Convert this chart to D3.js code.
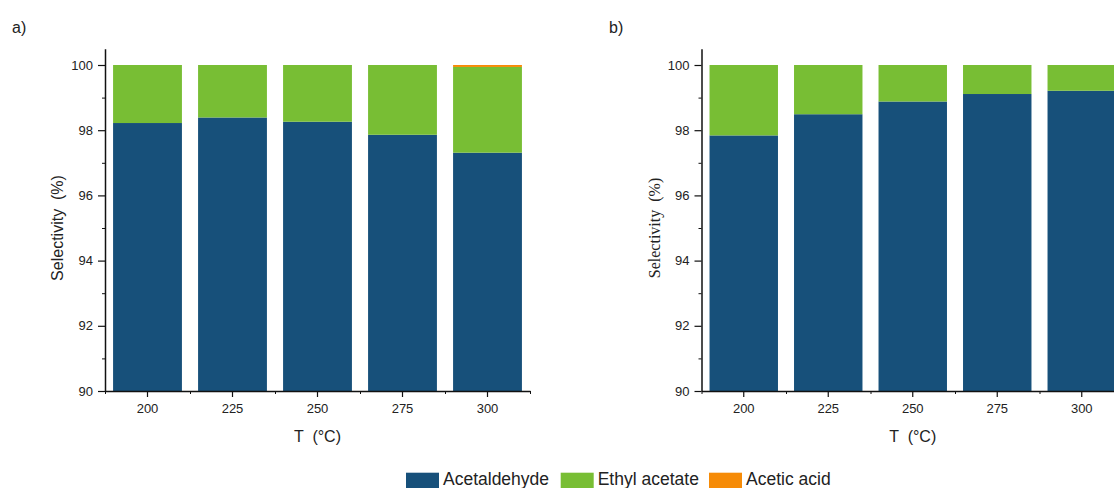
<!DOCTYPE html>
<html>
<head>
<meta charset="utf-8">
<script src="https://cdn.jsdelivr.net/npm/d3@7"></script>
<style>
  html, body { margin: 0; padding: 0; background: #fff; }
  svg { display: block; }
  .axis path, .axis line { stroke: #111; }
  .axis text { font-family: "Liberation Sans", Arial, sans-serif; font-size: 13px; fill: #222; }
</style>
</head>
<body>
<svg id="chart" width="1114" height="488"></svg>
<script>
// Reaction temperatures (°C)
const temps = ["200", "225", "250", "275", "300"];

// Product selectivity (%), catalyst a)
const acetaldehydeA = [98.22, 98.39, 98.26, 97.86, 97.31];
const ethylAcetateA = [1.78, 1.61, 1.74, 2.14, 2.63];
const aceticAcidA   = [0, 0, 0, 0, 0.06];

// Product selectivity (%), catalyst b)
const acetaldehydeB = [97.84, 98.49, 98.88, 99.11, 99.21];
const ethylAcetateB = [2.16, 1.51, 1.12, 0.89, 0.79];
const aceticAcidB   = [0, 0, 0, 0, 0];

const products = ["Acetaldehyde", "Ethyl acetate", "Acetic acid"];
const colors = ["#17507a", "#78be34", "#f68b07"];

const yMajor = [90, 92, 94, 96, 98, 100];
const yMinor = [91, 93, 95, 97, 99];

const svg = d3.select("#chart");
const color = d3.scaleOrdinal().domain(products).range(colors);

function panel(opts) {
  const rows = temps.map((t, i) => ({
    T: t,
    "Acetaldehyde": opts.ald[i],
    "Ethyl acetate": opts.ea[i],
    "Acetic acid": opts.aa[i]
  }));
  const series = d3.stack().keys(products)(rows);

  const x = d3.scaleBand().domain(temps).range(opts.xRange).paddingInner(0.19).paddingOuter(0.095);
  const xEdges = d3.scaleLinear().domain([0, temps.length]).range(opts.xRange);
  const y = d3.scaleLinear().domain([90, 100.5]).range([391, 48.7]).clamp(true);

  const g = svg.append("g");

  // stacked bars
  g.selectAll("g.layer").data(series).join("g")
    .attr("class", "layer")
    .attr("fill", d => color(d.key))
    .selectAll("rect").data(d => d).join("rect")
    .attr("x", d => x(d.data.T))
    .attr("width", x.bandwidth())
    .attr("y", d => y(d[1]))
    .attr("height", d => Math.max(0, y(d[0]) - y(d[1])));

  // y axis: labelled major ticks + short minor ticks
  g.append("g").attr("class", "axis")
    .attr("transform", `translate(${opts.xRange[0]},0)`)
    .call(d3.axisLeft(y).tickValues(yMinor).tickSize(3).tickSizeOuter(0).tickFormat(""))
    .call(a => a.select(".domain").remove());
  g.append("g").attr("class", "axis")
    .attr("transform", `translate(${opts.xRange[0]},0)`)
    .call(d3.axisLeft(y).tickValues(yMajor).tickSize(7).tickPadding(5).tickSizeOuter(0))
    .call(a => a.select(".domain").attr("stroke-width", 1.5))
    .call(a => a.selectAll(".tick line").attr("stroke-width", 1.2));

  // x axis: labelled ticks at bar centres, short ticks at band edges
  g.append("g").attr("class", "axis")
    .attr("transform", "translate(0,391)")
    .call(d3.axisBottom(xEdges).tickValues(d3.range(temps.length + 1)).tickSize(3).tickSizeOuter(0).tickFormat(""))
    .call(a => a.select(".domain").remove());
  g.append("g").attr("class", "axis")
    .attr("transform", "translate(0,391)")
    .call(d3.axisBottom(x).tickSize(6).tickPadding(7).tickSizeOuter(0))
    .call(a => a.select(".domain").attr("stroke-width", 1.5))
    .call(a => a.selectAll(".tick line").attr("stroke-width", 1.2));

  // axis titles
  const cx = (opts.xRange[0] + opts.xRange[1]) / 2;
  g.append("text")
    .attr("x", cx).attr("y", 442)
    .attr("text-anchor", "middle")
    .style("font-family", "'Liberation Sans', Arial, sans-serif")
    .style("font-size", "16px").style("fill", "#222")
    .style("white-space", "pre")
    .text("T  (°C)");

  g.append("text")
    .attr("transform", `translate(${opts.yLabelX},${y(95.0)}) rotate(-90)`)
    .attr("text-anchor", "middle")
    .style("font-family", opts.yLabelFont)
    .style("font-size", "16px").style("fill", "#222")
    .style("white-space", "pre")
    .text("Selectivity  (%)");

  // panel letter
  g.append("text")
    .attr("x", opts.letterX).attr("y", 33)
    .style("font-family", "'Liberation Sans', Arial, sans-serif")
    .style("font-size", "16px").style("fill", "#222")
    .text(opts.letter);
}

panel({
  ald: acetaldehydeA, ea: ethylAcetateA, aa: aceticAcidA,
  xRange: [105, 530], yLabelX: 63, letter: "a)", letterX: 12,
  yLabelFont: "'Liberation Sans', Arial, sans-serif"
});
panel({
  ald: acetaldehydeB, ea: ethylAcetateB, aa: aceticAcidB,
  xRange: [701.5, 1124], yLabelX: 660, letter: "b)", letterX: 609,
  yLabelFont: "'Liberation Serif', 'Times New Roman', serif"
});

// legend along the bottom edge
const legend = svg.append("g").attr("transform", "translate(406,0)");
const itemX = [0, 154.7, 303];
products.forEach((p, i) => {
  const it = legend.append("g").attr("transform", `translate(${itemX[i]},0)`);
  it.append("rect").attr("x", 0).attr("y", 472.7).attr("width", 33).attr("height", 16).attr("fill", color(p));
  it.append("text").attr("x", 37).attr("y", 485)
    .style("font-family", "'Liberation Sans', Arial, sans-serif")
    .style("font-size", "17.5px").style("fill", "#222")
    .text(p);
});
</script>
</body>
</html>
